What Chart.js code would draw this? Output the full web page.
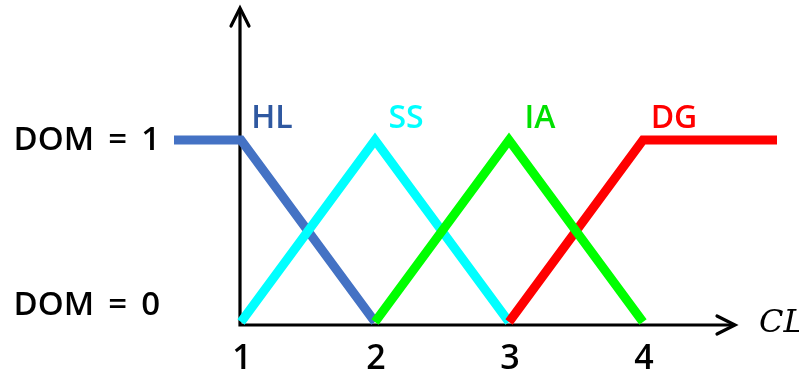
<!DOCTYPE html>
<html>
<head>
  <meta http-equiv="content-type" content="text/html; charset=UTF-8" />
  <title>Membership functions</title>
  <script src="https://cdn.jsdelivr.net/npm/chart.js@4.4.1/dist/chart.umd.min.js"></script>
  <style>
    html, body { margin: 0; padding: 0; background: #fff; }
    #wrap { width: 799px; height: 371px; }
  </style>
</head>
<body>
<div id="wrap"><canvas id="canvas" width="799" height="371"></canvas></div>
<script>
  "use strict";

  // membership function break points
  const hlX = [0.5, 1, 2];
  const hlY = [1, 1, 0];
  const ssX = [1, 2, 3];
  const ssY = [0, 1, 0];
  const iaX = [2, 3, 4];
  const iaY = [0, 1, 0];
  const dgX = [3, 4, 5];
  const dgY = [0, 1, 1];

  const seriesNames = ['HL', 'SS', 'IA', 'DG'];
  const seriesPeaks = [1, 2, 3, 4];
  const xTicks = [1, 2, 3, 4];
  const yTickValues = [0, 1];
  const yTickLabels = ['DOM = 0', 'DOM = 1'];
  const xTitle = 'CL';

  const FONT = '"Open Sans", "Noto Sans", sans-serif';

  const pts = (xs, ys) => xs.map((x, i) => ({ x: x, y: ys[i] }));

  const axesPlugin = {
    id: 'axesPlugin',
    beforeDatasetsDraw(chart) {
      const ctx = chart.ctx;
      const xs = chart.scales.x, ys = chart.scales.y;
      const ox = xs.getPixelForValue(1) - 1;
      const oy = ys.getPixelForValue(0) + 3;
      const xEnd = 735, yEnd = 8;
      ctx.save();
      ctx.strokeStyle = '#000';
      ctx.lineWidth = 3.2;
      ctx.lineCap = 'butt';
      ctx.beginPath();
      ctx.moveTo(ox, oy + 1.5);
      ctx.lineTo(ox, yEnd + 1);
      ctx.moveTo(ox - 1.5, oy);
      ctx.lineTo(xEnd - 1, oy);
      ctx.stroke();
      // arrow heads
      ctx.lineCap = 'round';
      ctx.lineJoin = 'miter';
      ctx.beginPath();
      ctx.moveTo(ox - 9, yEnd + 18);
      ctx.lineTo(ox, yEnd);
      ctx.lineTo(ox + 9, yEnd + 18);
      ctx.moveTo(xEnd - 18, oy - 9);
      ctx.lineTo(xEnd, oy);
      ctx.lineTo(xEnd - 18, oy + 9);
      ctx.stroke();
      ctx.restore();
    },
    afterDatasetsDraw(chart) {
      const ctx = chart.ctx;
      const xs = chart.scales.x, ys = chart.scales.y;
      const ds = chart.data.datasets;
      const oy = ys.getPixelForValue(0);
      ctx.save();
      ctx.textBaseline = 'middle';
      // x tick labels
      ctx.fillStyle = '#000';
      ctx.textAlign = 'center';
      ctx.font = '600 34px ' + FONT;
      xTicks.forEach(v => ctx.fillText(String(v), xs.getPixelForValue(v) + 1, oy + 37));
      // DOM labels
      ctx.textAlign = 'right';
      ctx.font = '600 33px ' + FONT;
      yTickValues.forEach((v, i) => {
        const py = ys.getPixelForValue(v) + (v === 0 ? -16 : 1);
        ctx.fillText(yTickLabels[i].replace(/ /g, '\u2009 '), 160, py);
      });
      // series names
      ctx.textAlign = 'center';
      ctx.font = '600 32px ' + FONT;
      seriesNames.forEach((n, i) => {
        ctx.fillStyle = ds[i].labelColor;
        ctx.fillText(n, xs.getPixelForValue(seriesPeaks[i]) + 31, ys.getPixelForValue(1) - 21);
      });
      // axis title
      ctx.fillStyle = '#000';
      ctx.font = 'italic 32px "DejaVu Serif", "Liberation Serif", serif';
      ctx.textAlign = 'left';
      ctx.fillText(xTitle, 759, oy + 2);
      ctx.restore();
    }
  };

  const common = {
    showLine: true,
    borderWidth: 9,
    pointRadius: 0,
    pointHoverRadius: 0,
    borderCapStyle: 'butt',
    borderJoinStyle: 'miter',
    tension: 0,
    fill: false
  };

  new Chart(document.getElementById('canvas').getContext('2d'), {
    type: 'scatter',
    data: {
      datasets: [
        Object.assign({ label: 'HL', data: pts(hlX, hlY), borderColor: '#4472C4', labelColor: '#2F58A0', order: 3 }, common),
        Object.assign({ label: 'SS', data: pts(ssX, ssY), borderColor: '#00FFFF', labelColor: '#00FFFF', order: 2 }, common),
        Object.assign({ label: 'IA', data: pts(iaX, iaY), borderColor: '#00FF00', labelColor: '#00E000', order: 0 }, common),
        Object.assign({ label: 'DG', data: pts(dgX, dgY), borderColor: '#FF0000', labelColor: '#FF0000', order: 1 }, common)
      ]
    },
    options: {
      responsive: false,
      animation: false,
      events: [],
      layout: { padding: { left: 174, right: 8.6, top: 12.6, bottom: 30.8 } },
      plugins: { legend: { display: false }, tooltip: { enabled: false } },
      scales: {
        x: { type: 'linear', min: 0.5, max: 5.1, display: false },
        y: { type: 'linear', min: -0.1, max: 1.7, display: false }
      }
    },
    plugins: [axesPlugin]
  });
</script>
</body>
</html>
